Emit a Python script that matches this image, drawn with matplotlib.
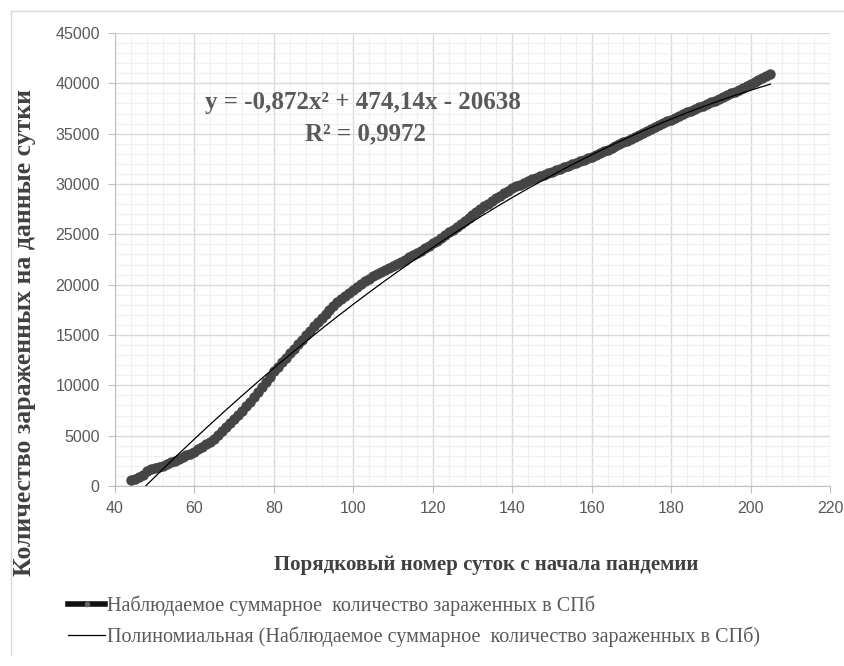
import matplotlib.pyplot as plt
import numpy as np
from matplotlib.lines import Line2D
from matplotlib.ticker import MultipleLocator

# ---------------- DATA ----------------
DAYS = list(range(44, 206))
CASES = [
    600, 700, 850, 1100, 1500, 1650, 1750, 1870, 2000, 2170,
    2340, 2520, 2700, 2870, 3040, 3220, 3400, 3650, 3900, 4150,
    4420, 4700, 5100, 5500, 5900, 6300, 6700, 7100, 7500, 7900,
    8370, 8840, 9320, 9800, 10330, 10860, 11400, 11850, 12300, 12750,
    13200, 13650, 14100, 14550, 15000, 15430, 15850, 16280, 16700, 17100,
    17500, 17900, 18300, 18600, 18900, 19200, 19500, 19780, 20050, 20330,
    20600, 20830, 21050, 21280, 21500, 21700, 21900, 22100, 22300, 22500,
    22700, 22900, 23100, 23350, 23600, 23850, 24100, 24380, 24650, 24930,
    25200, 25480, 25750, 26030, 26300, 26600, 26900, 27200, 27500, 27780,
    28050, 28330, 28600, 28850, 29100, 29350, 29600, 29780, 29950, 30130,
    30300, 30450, 30600, 30750, 30900, 31050, 31200, 31350, 31500, 31650,
    31800, 31950, 32100, 32250, 32400, 32550, 32700, 32880, 33060, 33240,
    33420, 33600, 33780, 33960, 34140, 34320, 34500, 34700, 34900, 35100,
    35300, 35500, 35680, 35860, 36040, 36220, 36400, 36580, 36760, 36940,
    37120, 37300, 37460, 37620, 37780, 37940, 38100, 38280, 38460, 38640,
    38820, 39000, 39180, 39360, 39540, 39720, 39900, 40100, 40300, 40500,
    40700, 40900,
]
POLY = [-0.872, 474.14, -20638]  # Excel trendline coefficients
EQ_TEXT = "y = -0,872x² + 474,14x - 20638"
R2_TEXT = "R² = 0,9972"
X_LABEL = "Порядковый номер суток с начала пандемии"
Y_LABEL = "Количество зараженных на данные сутки"
LEG_OBS = "Наблюдаемое суммарное  количество зараженных в СПб"
LEG_TREND = "Полиномиальная (Наблюдаемое суммарное  количество зараженных в СПб)"

GRAY = "#595959"
SERIF = "Liberation Serif"

# ---------------- FIGURE ----------------
fig = plt.figure(figsize=(8.45, 6.66), dpi=100)
ax = fig.add_axes([115 / 845, 1 - 486 / 666, (830 - 115) / 845, (486 - 33) / 666])

ax.plot(DAYS, CASES, color="#111111", lw=3, marker="o", ms=6.5,
        mfc="#454545", mec="#454545", zorder=3)

trend_x = np.array(DAYS, dtype=float)
trend_y = np.polyval(POLY, trend_x)
ax.plot(trend_x, trend_y, color="black", lw=0.9, zorder=4)

ax.set_xlim(40, 220)
ax.set_ylim(0, 45000)
ax.xaxis.set_major_locator(MultipleLocator(20))
ax.xaxis.set_minor_locator(MultipleLocator(4))
ax.yaxis.set_major_locator(MultipleLocator(5000))
ax.yaxis.set_minor_locator(MultipleLocator(1000))
ax.grid(which="major", color="#d9d9d9", lw=1)
ax.grid(which="minor", color="#f0f0f0", lw=0.8)
ax.set_axisbelow(True)

for side in ["top", "right"]:
    ax.spines[side].set_visible(False)
for side in ["left", "bottom"]:
    ax.spines[side].set_color("#bfbfbf")
ax.tick_params(which="major", length=5, color="#bfbfbf", labelcolor=GRAY,
               labelsize=11.5, pad=6)
ax.tick_params(which="minor", length=0)
for lab in ax.get_xticklabels() + ax.get_yticklabels():
    lab.set_family("Liberation Sans")

# trendline equation
fig.text(363 / 845, 1 - 103 / 666, EQ_TEXT, family=SERIF, weight="bold",
         fontsize=18, color=GRAY, ha="center", va="center")
fig.text(366 / 845, 1 - 134 / 666, R2_TEXT, family=SERIF, weight="bold",
         fontsize=18, color=GRAY, ha="center", va="center")

# axis titles
fig.text(486 / 845, 1 - 565 / 666, X_LABEL, family=SERIF, weight="bold",
         fontsize=15, color="#404040", ha="center", va="center")
fig.text(25 / 845, 1 - 332 / 666, Y_LABEL, family=SERIF, weight="bold",
         fontsize=18.5, color="#404040", ha="center", va="center", rotation=90)

# legend
handles = [
    Line2D([], [], color="#111111", lw=4, marker="o", ms=3,
           mfc="#666666", mec="#666666"),
    Line2D([], [], color="black", lw=0.9),
]
fig.legend(handles, [LEG_OBS, LEG_TREND], loc="upper left",
           bbox_to_anchor=(68 / 845, 1 - 596 / 666), frameon=False,
           prop={"family": SERIF, "size": 14.5}, labelcolor=GRAY,
           handlelength=1.85, handletextpad=0.1, labelspacing=0.5,
           borderaxespad=0, borderpad=0)

# chart frame (top and left edges)
fig.add_artist(Line2D([11 / 845, 1], [1 - 11 / 666, 1 - 11 / 666],
                      color="#d9d9d9", lw=1, transform=fig.transFigure))
fig.add_artist(Line2D([11 / 845, 11 / 845], [1 - 11 / 666, 1 - 655 / 666],
                      color="#d9d9d9", lw=1, transform=fig.transFigure))

fig.savefig("out.png", dpi=100)
